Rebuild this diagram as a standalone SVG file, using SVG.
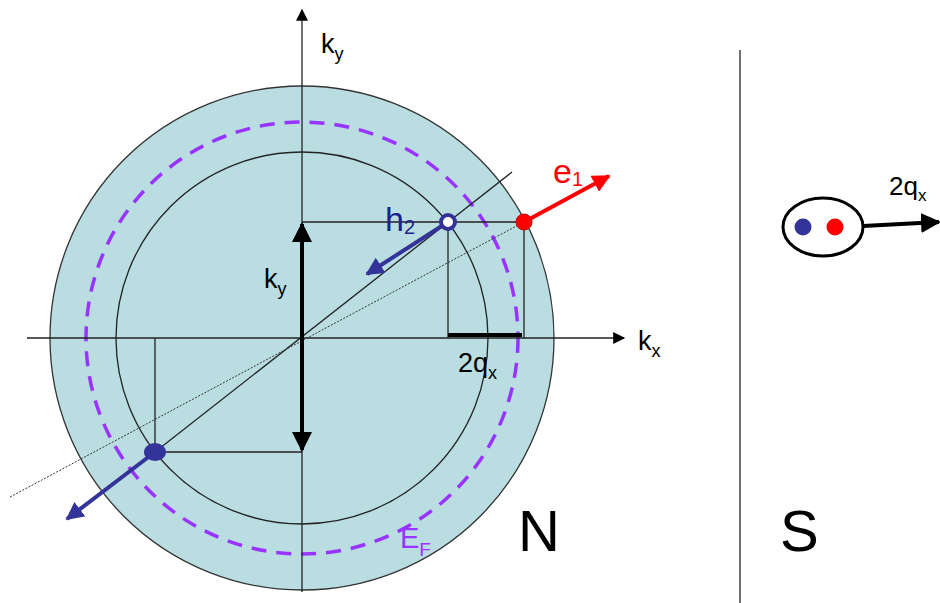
<svg xmlns="http://www.w3.org/2000/svg" width="940" height="603" viewBox="0 0 940 603">
<defs>
<style>
text{font-family:"Liberation Sans",Arial,sans-serif}
.lbl{font-size:27px;fill:#000}
.sub{font-size:18px}
.thin{stroke:#222;stroke-width:1.3;fill:none}
</style>
<marker id="ah" viewBox="0 0 10 10" refX="9" refY="5" markerWidth="5" markerHeight="5" orient="auto-start-reverse" markerUnits="strokeWidth"><path d="M0,0L10,5L0,10z" fill="#000"/></marker>
<marker id="ahthin" viewBox="0 0 10 10" refX="9" refY="5" markerWidth="14" markerHeight="12" orient="auto" markerUnits="userSpaceOnUse"><path d="M0,0L10,5L0,10z" fill="#000"/></marker>
<marker id="ahr" viewBox="0 0 10 10" refX="9" refY="5" markerWidth="4.5" markerHeight="4.5" orient="auto" markerUnits="strokeWidth"><path d="M0,0L10,5L0,10z" fill="#ff0000"/></marker>
<marker id="ahb" viewBox="0 0 10 10" refX="9" refY="5" markerWidth="4.5" markerHeight="4.5" orient="auto" markerUnits="strokeWidth"><path d="M0,0L10,5L0,10z" fill="#333399"/></marker>
</defs>
<rect width="940" height="603" fill="#fff"/>
<g id="fermi-disk">
<circle cx="302" cy="338" r="252" fill="#b9dde1" stroke="#333" stroke-width="1.3"/>
<circle cx="302" cy="338" r="186" class="thin"/>
<circle cx="302" cy="338" r="216" fill="none" stroke="#9933ff" stroke-width="3.5" stroke-dasharray="15,10"/>
</g>
<g id="connectors">
<line x1="302" y1="592" x2="302" y2="10" stroke="#222" stroke-width="1.3" marker-end="url(#ahthin)"/>
<line x1="27" y1="338" x2="624" y2="338" stroke="#222" stroke-width="1.3" marker-end="url(#ahthin)"/>
<line x1="155" y1="452" x2="512" y2="172" class="thin"/>
<line x1="10" y1="497" x2="524" y2="222" stroke="#333" stroke-width="1" stroke-dasharray="2,1.5"/>
<polyline points="302,222 524,222 524,338" class="thin"/>
<line x1="448" y1="222" x2="448" y2="338" class="thin"/>
<polyline points="302,452 155,452 155,338" class="thin"/>
<line x1="302" y1="224" x2="302" y2="450" stroke="#000" stroke-width="4" marker-start="url(#ah)" marker-end="url(#ah)"/>
<line x1="448" y1="335" x2="522" y2="335" stroke="#000" stroke-width="4"/>
<line x1="524" y1="222" x2="609" y2="176" stroke="#ff0000" stroke-width="4" marker-end="url(#ahr)"/>
<line x1="448" y1="222" x2="367" y2="274" stroke="#333399" stroke-width="4" marker-end="url(#ahb)"/>
<line x1="155" y1="452" x2="67" y2="519" stroke="#333399" stroke-width="4" marker-end="url(#ahb)"/>
<line x1="740" y1="50" x2="740" y2="603" stroke="#222" stroke-width="1.3"/>
<line x1="863" y1="226" x2="939" y2="222" stroke="#000" stroke-width="4" marker-end="url(#ah)"/>
</g>
<g id="h2">
<circle cx="448" cy="222" r="7" fill="#fff" stroke="#333399" stroke-width="4"/>
<text x="385" y="231" style="font-size:34px;fill:#1f1f8f">h<tspan style="font-size:20px" dy="3">2</tspan></text>
</g>
<g id="e1">
<circle cx="524" cy="222" r="8" fill="#ff0000" stroke="#cc0000" stroke-width="1"/>
<text x="553" y="183" style="font-size:34px;fill:#ff0000">e<tspan style="font-size:20px" dy="3">1</tspan></text>
</g>
<g id="hole-low">
<ellipse cx="155" cy="452" rx="11" ry="9" fill="#333399"/>
</g>
<g id="labels">
<text x="321" y="53" class="lbl">k<tspan class="sub" dy="7">y</tspan></text>
<text x="264" y="288" class="lbl">k<tspan class="sub" dy="7">y</tspan></text>
<text x="638" y="350" class="lbl">k<tspan class="sub" dy="7">x</tspan></text>
<text x="458" y="372" class="lbl">2q<tspan class="sub" dy="7">x</tspan></text>
<text x="400" y="548" style="font-size:29px;fill:#9933ff">E<tspan style="font-size:19px" dy="8">F</tspan></text>
<text x="518" y="551" style="font-size:58px">N</text>
<text x="780" y="551" style="font-size:58px">S</text>
</g>
<g id="pair">
<ellipse cx="823" cy="227" rx="40" ry="29" fill="#fff" stroke="#000" stroke-width="3"/>
<circle cx="803" cy="227" r="8.5" fill="#333399"/>
<circle cx="835" cy="227" r="8.5" fill="#ff0000"/>
<text x="889" y="195" style="font-size:26px">2q<tspan style="font-size:17px" dy="6">x</tspan></text>
</g>
</svg>
